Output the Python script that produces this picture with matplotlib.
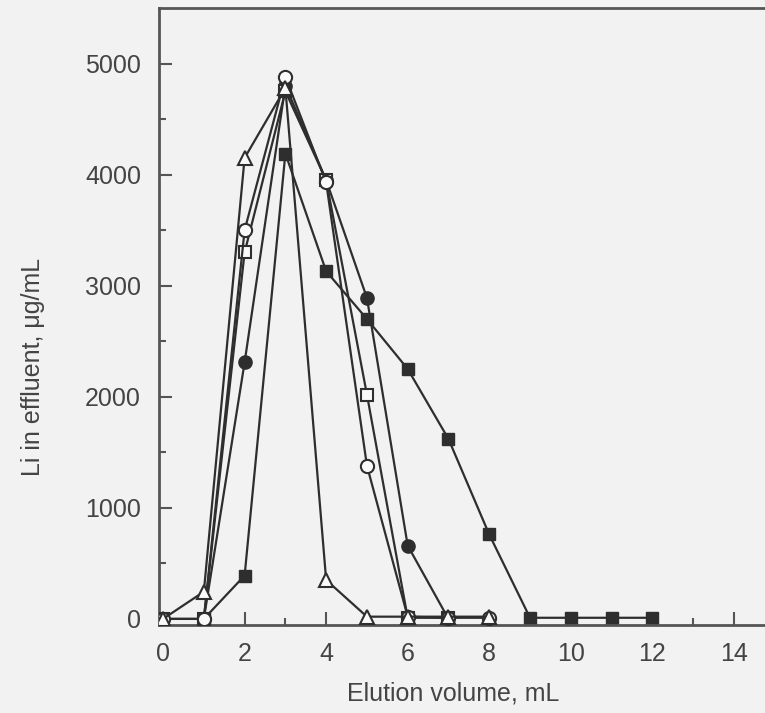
import numpy as np
import matplotlib.pyplot as plt

plt.rcParams['font.family'] = ['Liberation Sans', 'DejaVu Sans']

# elution volume (mL) and Li in effluent (ug/mL) for each run
x_fsq = [1, 2, 3, 4, 5, 6, 7, 8, 9, 10, 11, 12]
y_fsq = [0, 390, 4190, 3130, 2700, 2250, 1620, 760, 10, 10, 10, 10]

x_fci = [1, 2, 3, 4, 5, 6, 7]
y_fci = [0, 2310, 4800, 3950, 2890, 660, 0]

x_osq = [0, 1, 2, 3, 4, 5, 6, 7]
y_osq = [0, 0, 3300, 4750, 3950, 2020, 10, 10]

x_oci = [0, 1, 2, 3, 4, 5, 6, 7, 8]
y_oci = [0, 0, 3500, 4880, 3930, 1380, 20, 10, 10]

x_otr = [0, 1, 2, 3, 4, 5, 6, 7, 8]
y_otr = [0, 245, 4150, 4780, 350, 20, 20, 20, 20]

ink = '#2e2e2e'
bg = '#f2f2f2'

fig = plt.figure(figsize=(7.65, 7.13), dpi=100, facecolor=bg)
# right spine falls outside the picture (cropped original)
ax = fig.add_axes([159/765, 1-625/713, (795-159)/765, (625-8)/713])
ax.set_facecolor(bg)

ms = 8.5
lw = 1.6
ax.plot(x_fsq, y_fsq, '-s', color=ink, mfc=ink, mec=ink, ms=ms, lw=lw, zorder=2)
ax.plot(x_fci, y_fci, '-o', color=ink, mfc=ink, mec=ink, ms=ms+1, lw=lw,
        markevery=[1, 2, 3, 4, 5], zorder=2)
ax.plot(x_osq, y_osq, '-s', color=ink, mfc='#fafafa', mec=ink, ms=ms, mew=1.5, lw=lw, zorder=3)
ax.plot(x_oci, y_oci, '-o', color=ink, mfc='#fafafa', mec=ink, ms=ms+1, mew=1.5, lw=lw, zorder=4)
ax.plot(x_otr, y_otr, '-^', color=ink, mfc='#fafafa', mec=ink, ms=ms+1, mew=1.5, lw=lw, zorder=5)

ax.set_xlim(-0.1, 15.5)
ax.set_ylim(-55, 5500)
ax.set_xticks(np.arange(0, 16, 2))
ax.set_xticks(np.arange(1, 16, 2), minor=True)
ax.set_yticks(np.arange(0, 5001, 1000))
ax.set_yticks(np.arange(500, 5001, 1000), minor=True)

ax.tick_params(which='major', direction='in', length=9.5, width=1.5, color='#555555',
               labelsize=18, labelcolor='#444444', pad=12)
ax.tick_params(which='minor', direction='in', length=5, width=1.5, color='#555555')
ax.tick_params(axis='x', pad=12)
ax.tick_params(axis='y', pad=13)

for side in ['left', 'bottom', 'top']:
    ax.spines[side].set_linewidth(2)
    ax.spines[side].set_color('#555555')
ax.spines['right'].set_visible(False)

ax.set_xlabel('Elution volume, mL', fontsize=18, color='#444444')
ax.set_ylabel('Li in effluent, \u03bcg/mL', fontsize=18, color='#444444')
ax.xaxis.set_label_coords((453-159)/(795-159), -(694-625)/617)
ax.yaxis.set_label_coords(-(159-33)/636, (625-367)/617)
ax.xaxis.label.set_va('center')
ax.yaxis.label.set_va('center')

fig.savefig('out.png', dpi=100, facecolor=bg)
